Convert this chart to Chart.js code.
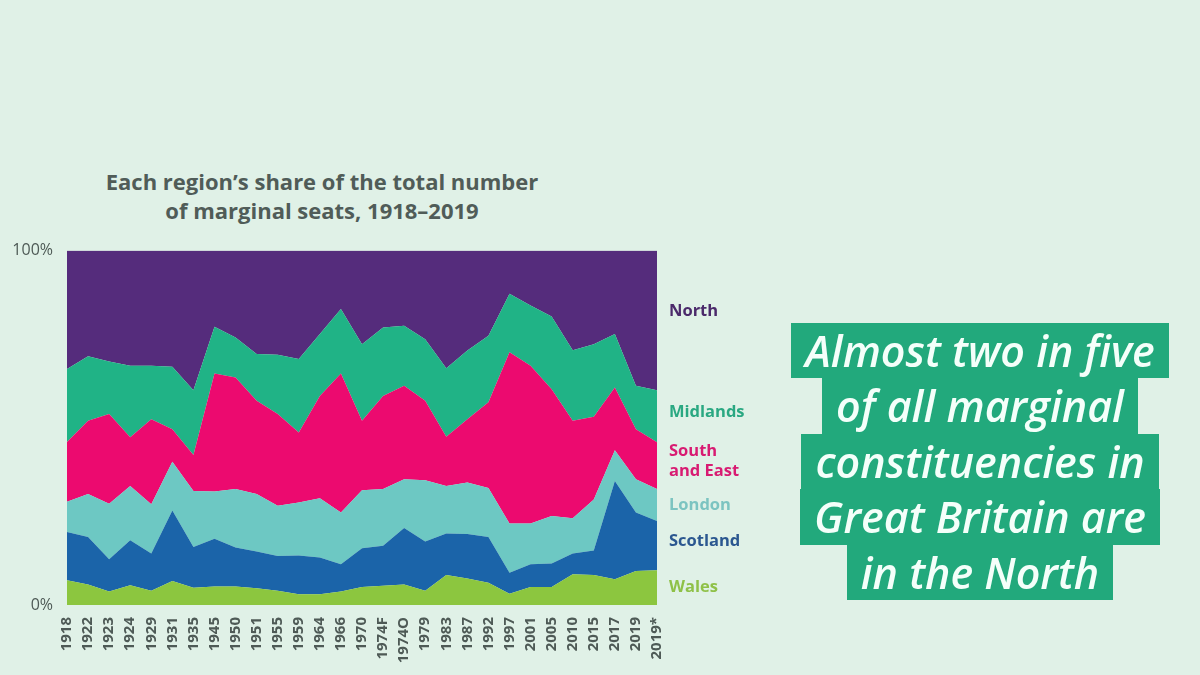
<!DOCTYPE html>
<html>
<head>
<meta charset="utf-8">
<script src="https://cdn.jsdelivr.net/npm/chart.js@4"></script>
<style>
  html, body { margin: 0; padding: 0; }
  body { width: 1200px; height: 675px; background: #e0f1e7; position: relative; overflow: hidden; font-family: "Open Sans", sans-serif; }
  #titulo { position: absolute; left: 22px; width: 600px; top: 167px; text-align: center; font-weight: 700; font-size: 22px; line-height: 29px; color: #505c58; }
  #grafico { position: absolute; left: 0; top: 235px; width: 770px; height: 440px; }
  #caja { position: absolute; left: 730px; width: 500px; top: 323px; }
  #caja .hl { width: fit-content; margin: 0 auto; padding: 0 14px; background: #22a97c; color: #f4fffa; font-style: italic; font-weight: 600; font-size: 43px; line-height: 55.4px; white-space: nowrap; }
</style>
</head>
<body>
<div id="titulo">Each region’s share of the total number<br>of marginal seats, 1918–2019</div>
<div id="grafico"><canvas id="lienzo"></canvas></div>
<div id="caja">
  <div class="hl">Almost two in five</div>
  <div class="hl">of all marginal</div>
  <div class="hl">constituencies in</div>
  <div class="hl">Great Britain are</div>
  <div class="hl">in the North</div>
</div>
<script>
// Elecciones (eje x)
const elecciones = ['1918', '1922', '1923', '1924', '1929', '1931', '1935', '1945', '1950', '1951',
  '1955', '1959', '1964', '1966', '1970', '1974F', '1974O', '1979', '1983', '1987', '1992', '1997',
  '2001', '2005', '2010', '2015', '2017', '2019', '2019*'];

// Porcentaje de escaños marginales por región
const wales = [7.0, 5.8, 3.8, 5.6, 4.0, 6.8, 4.9, 5.2, 5.2, 4.7, 4.0, 3.0, 3.0, 3.8, 5.1, 5.4, 5.8, 4.0, 8.5, 7.5, 6.3, 3.2, 5.1, 5.1, 8.7, 8.5, 7.3, 9.6, 9.8];
const scotland = [13.6, 13.4, 9.1, 12.7, 10.5, 19.9, 11.5, 13.5, 11.0, 10.4, 9.8, 11.0, 10.4, 7.7, 10.9, 11.3, 15.9, 13.9, 11.7, 12.5, 12.9, 5.9, 6.4, 6.6, 5.8, 6.9, 27.7, 16.5, 13.9];
const london = [8.5, 12.1, 15.7, 15.3, 13.9, 13.7, 15.8, 13.3, 16.5, 16.2, 14.2, 14.9, 16.7, 14.6, 16.4, 16.0, 13.8, 17.3, 13.4, 14.6, 13.8, 13.9, 11.5, 13.4, 10.0, 14.4, 8.7, 9.4, 9.0];
const surEste = [16.9, 20.7, 25.3, 13.7, 24.0, 9.2, 10.1, 33.3, 31.5, 26.3, 25.9, 19.8, 28.9, 39.2, 19.6, 26.3, 26.4, 22.4, 13.9, 17.8, 24.2, 48.3, 44.5, 35.8, 27.5, 23.3, 17.7, 14.1, 13.2];
const midlands = [20.6, 18.2, 14.8, 20.2, 15.1, 17.6, 18.3, 13.2, 11.3, 13.2, 16.7, 20.7, 17.5, 18.2, 21.6, 19.3, 16.9, 17.4, 19.3, 19.4, 18.8, 16.5, 17.0, 20.5, 19.9, 20.5, 15.1, 12.3, 14.7];
const north = [33.4, 29.8, 31.3, 32.5, 32.5, 32.8, 39.4, 21.5, 24.5, 29.2, 29.4, 30.6, 23.5, 16.5, 26.4, 21.7, 21.2, 25.0, 33.2, 28.2, 24.0, 12.2, 15.5, 18.6, 28.1, 26.4, 23.5, 38.1, 39.4];

const regiones = [
  { nombre: ['Wales'], datos: wales, color: '#8cc63f', texto: '#8fc148', y: 5 },
  { nombre: ['Scotland'], datos: scotland, color: '#1b64a9', texto: '#2b5790', y: 18 },
  { nombre: ['London'], datos: london, color: '#6dc8c3', texto: '#7cc4c1', y: 28 },
  { nombre: ['South', 'and East'], datos: surEste, color: '#ec0a6f', texto: '#d81b72', y: 40.5 },
  { nombre: ['Midlands'], datos: midlands, color: '#20b386', texto: '#2aa882', y: 54.5 },
  { nombre: ['North'], datos: north, color: '#552c7c', texto: '#4b2a6b', y: 83 }
];

// Etiquetas a la derecha del área
const etiquetasRegion = {
  id: 'etiquetasRegion',
  afterDatasetsDraw(chart) {
    const ctx = chart.ctx;
    const yScale = chart.scales.y;
    const x = chart.chartArea.right + 12;
    ctx.save();
    ctx.font = '700 16.5px "Open Sans", sans-serif';
    ctx.textBaseline = 'middle';
    ctx.textAlign = 'left';
    regiones.forEach(r => {
      const yc = yScale.getPixelForValue(r.y);
      ctx.fillStyle = r.texto;
      const n = r.nombre.length;
      r.nombre.forEach((linea, k) => {
        ctx.fillText(linea, x, yc + (k - (n - 1) / 2) * 20);
      });
    });
    ctx.restore();
  }
};

const ctx = document.getElementById('lienzo').getContext('2d');
new Chart(ctx, {
  type: 'line',
  data: {
    labels: elecciones,
    datasets: regiones.map((r, i) => ({
      label: r.nombre.join(' '),
      data: r.datos,
      backgroundColor: r.color,
      borderColor: r.color,
      borderWidth: 0,
      pointRadius: 0,
      tension: 0,
      fill: i === 0 ? 'origin' : '-1'
    }))
  },
  options: {
    responsive: true,
    maintainAspectRatio: false,
    animation: false,
    layout: { padding: { top: 15, right: 113, left: 0, bottom: 0 } },
    plugins: {
      legend: { display: false },
      tooltip: { enabled: false }
    },
    scales: {
      x: {
        offset: false,
        grid: { display: false },
        border: { display: false },
        ticks: {
          autoSkip: false,
          maxRotation: 90,
          minRotation: 90,
          padding: 4,
          color: '#4e5a56',
          font: { family: '"Open Sans", sans-serif', size: 15, weight: '700' }
        },
        afterFit: (scale) => { scale.height = 70; }
      },
      y: {
        stacked: true,
        min: 0,
        max: 100,
        grid: { display: false },
        border: { display: false },
        ticks: {
          stepSize: 100,
          padding: 6,
          color: '#4e5a56',
          font: { family: '"Open Sans", sans-serif', size: 16, weight: '500' },
          callback: (v) => v + '%'
        },
        afterFit: (scale) => { scale.width = 67; }
      }
    }
  },
  plugins: [etiquetasRegion]
});
</script>
</body>
</html>
